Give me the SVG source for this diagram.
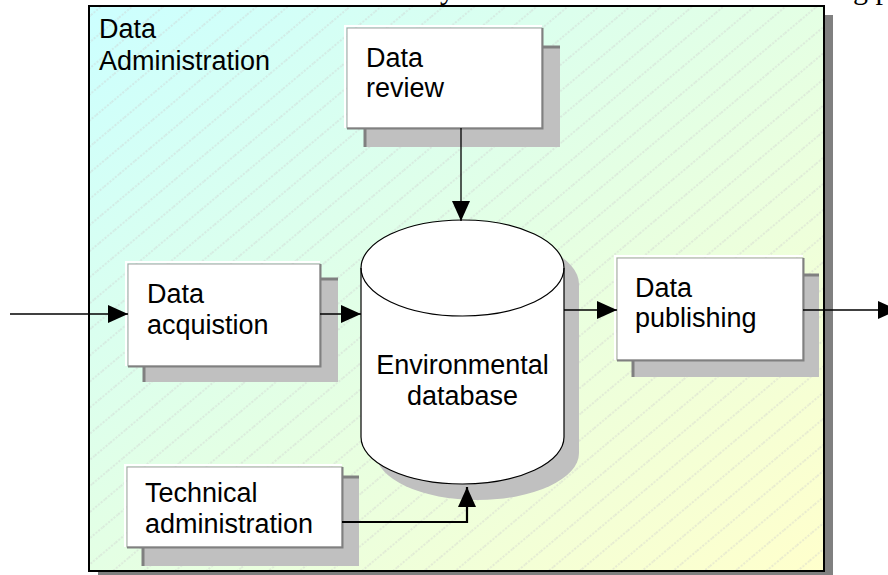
<svg xmlns="http://www.w3.org/2000/svg" width="888" height="575" viewBox="0 0 888 575">
<style>
.lbl{font-family:"Liberation Sans",Arial,sans-serif;font-size:27px;fill:#000}
.top{font-family:"Liberation Serif","Times New Roman",serif;font-size:30px;fill:#000}
.box{fill:#fff;stroke:#a0a0a0;stroke-width:1}
.hi{fill:none;stroke:#fff;stroke-width:2}
.lo{fill:none;stroke:#808080;stroke-width:2}
.sh{fill:#c0c0c0}
.she{fill:none;stroke:#808080;stroke-width:3}
.con{fill:none;stroke:#000;stroke-width:1.3}
.con2{fill:none;stroke:#000;stroke-width:2.2}
</style>
<defs>
<linearGradient id="bg" x1="0" y1="0" x2="1" y2="1">
<stop offset="0" stop-color="#ccffff"/>
<stop offset="0.5" stop-color="#e4ffe4"/>
<stop offset="1" stop-color="#ffffcc"/>
</linearGradient>
<pattern id="hatch" width="20" height="20" patternUnits="userSpaceOnUse" patternTransform="rotate(-40)">
<line x1="0" y1="10" x2="20" y2="10" stroke="#cdcdcd" stroke-width="0.8" stroke-dasharray="2 1.5"/>
</pattern>
<marker id="ah" markerUnits="userSpaceOnUse" markerWidth="20" markerHeight="18" refX="20" refY="9" orient="auto">
<path d="M0,0 L20,9 L0,18 Z" fill="#000"/>
</marker>
</defs>

<text class="top" x="440" y="-1">y</text>
<text class="top" x="853" y="-1">g p</text>

<g id="frame">
<rect x="98" y="15" width="735" height="565" fill="#808080"/>
<rect x="89" y="6" width="735" height="565" fill="url(#bg)"/>
<rect x="89" y="6" width="735" height="565" fill="url(#hatch)" stroke="#000" stroke-width="2"/>
<text class="lbl" x="99" y="38">Data</text>
<text class="lbl" x="99" y="70">Administration</text>
</g>

<g id="review">
<rect class="sh" x="365" y="47" width="195" height="100"/>
<path class="she" d="M365,147 V47 H560"/>
<rect class="box" x="347" y="28" width="195" height="100"/>
<path class="hi" d="M345,128 V26 H542"/>
<path class="lo" d="M347,128.5 H542.5 V28"/>
<text class="lbl" x="366" y="67">Data</text>
<text class="lbl" x="366" y="97">review</text>
</g>

<g id="acquisition">
<rect class="sh" x="144" y="279" width="194" height="103"/>
<path class="she" d="M144,382 V279 H338"/>
<rect class="box" x="128" y="264" width="192" height="102"/>
<path class="hi" d="M126,366 V262 H320"/>
<path class="lo" d="M128,366.5 H320.5 V264"/>
<text class="lbl" x="147" y="303">Data</text>
<text class="lbl" x="147" y="334">acquistion</text>
</g>

<g id="database">
<path class="sh" d="M376,284 A101.5,48 0 0 1 579,284 L579,453 A101.5,47 0 0 1 376,453 Z"/>
<path d="M361,268 A101.5,48 0 0 1 564,268 L564,437 A101.5,47 0 0 1 361,437 Z" fill="#fff" stroke="#000" stroke-width="1.2"/>
<path d="M361,268 A101.5,48 0 0 0 564,268" fill="none" stroke="#000" stroke-width="1.2"/>
<text class="lbl" x="462.5" y="374" text-anchor="middle">Environmental</text>
<text class="lbl" x="462.5" y="405" text-anchor="middle">database</text>
</g>

<g id="publishing">
<rect class="sh" x="633" y="275" width="186" height="102"/>
<path class="she" d="M633,377 V275 H819"/>
<rect class="box" x="617" y="258" width="186" height="102"/>
<path class="hi" d="M615,360 V256 H803"/>
<path class="lo" d="M617,360.5 H803.5 V258"/>
<text class="lbl" x="635" y="297">Data</text>
<text class="lbl" x="635" y="327">publishing</text>
</g>

<g id="technical">
<rect class="sh" x="143" y="477" width="216" height="89"/>
<path class="she" d="M143,566 V477 H359"/>
<rect class="box" x="127" y="467" width="215" height="80"/>
<path class="hi" d="M125,547 V465 H342"/>
<path class="lo" d="M127,547.5 H342.5 V467"/>
<text class="lbl" x="145" y="502">Technical</text>
<text class="lbl" x="145" y="533">administration</text>
</g>

<g id="connectors">
<path class="con" d="M10,314 H128" marker-end="url(#ah)"/>
<path class="con" d="M320,314 H361" marker-end="url(#ah)"/>
<path class="con" d="M461,128 V221" marker-end="url(#ah)"/>
<path class="con" d="M564,310 H617" marker-end="url(#ah)"/>
<path class="con" d="M803,310 H898" marker-end="url(#ah)"/>
<path class="con2" d="M342,522 H467 V487" marker-end="url(#ah)"/>
</g>
</svg>
